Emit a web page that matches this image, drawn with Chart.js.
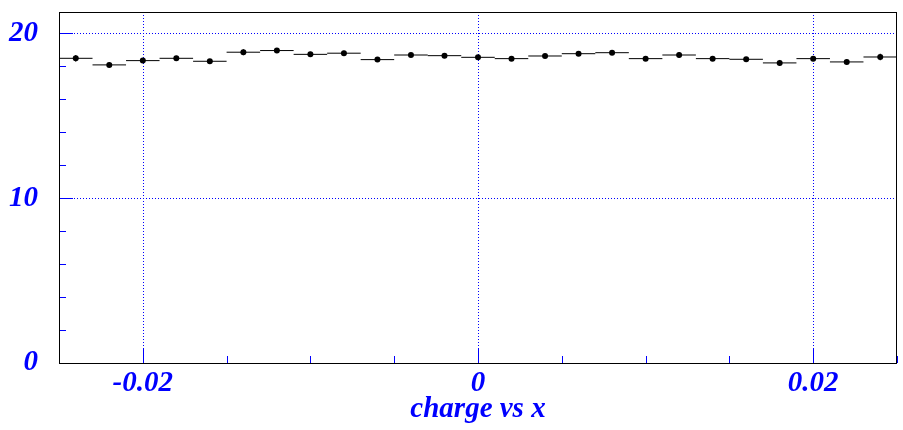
<!DOCTYPE html>
<html>
<head>
<meta charset="utf-8">
<script src="https://cdn.jsdelivr.net/npm/chart.js@4.4.1/dist/chart.umd.min.js"></script>
<style>
  body { margin: 0; background: #fff; }
  #wrap { width: 903px; height: 430px; }
</style>
</head>
<body>
<div id="wrap"><canvas id="profile" width="903" height="430"></canvas></div>
<script>
// profile: mean charge per x bin (25 bins of 0.002)
const binLow = -0.025;
const binWidth = 0.002;
const charge = [18.49, 18.09, 18.35, 18.49, 18.31, 18.86, 18.96, 18.73, 18.80, 18.41,
                18.69, 18.65, 18.55, 18.47, 18.63, 18.77, 18.83, 18.47, 18.69, 18.47,
                18.43, 18.21, 18.47, 18.27, 18.57];
const chargeErr = [0.20, 0.15, 0.12, 0.15, 0.12, 0.18, 0.15, 0.15, 0.15, 0.10,
                   0.12, 0.15, 0.10, 0.12, 0.10, 0.12, 0.12, 0.12, 0.18, 0.12,
                   0.10, 0.18, 0.12, 0.15, 0.20];
const xLabels = [-0.02, 0, 0.02];
const yLabels = [0, 10, 20];

const blue = '#0000ff';
const labelFont = { family: 'Liberation Serif', size: 29, weight: 'bold', style: 'italic' };

const stepPts = [];
const errPts = [];
const centerPts = [];
charge.forEach((v, i) => {
    const lo = binLow + i * binWidth;
    const c = lo + binWidth / 2;
    stepPts.push({ x: lo, y: v }, { x: lo + binWidth, y: v }, { x: lo + binWidth, y: null });
    errPts.push({ x: c, y: v - chargeErr[i] }, { x: c, y: v + chargeErr[i] }, { x: c, y: null });
    centerPts.push({ x: c, y: v });
});

function isLabel(v, list) {
    return list.some(l => Math.abs(v - l) < 1e-9);
}

// ROOT style frame, dotted grid and inward ticks
const frame = {
    id: 'frame',
    beforeDatasetsDraw(chart) {
        const { ctx, chartArea: a, scales: { x, y } } = chart;
        ctx.save();
        ctx.strokeStyle = blue;
        ctx.lineWidth = 1;
        ctx.setLineDash([1, 2]);
        xLabels.forEach(v => {
            const px = Math.round(x.getPixelForValue(v)) + 0.5;
            ctx.beginPath(); ctx.moveTo(px, a.top); ctx.lineTo(px, a.bottom); ctx.stroke();
        });
        yLabels.forEach(v => {
            if (v === 0) return;
            const py = Math.round(y.getPixelForValue(v)) + 0.5;
            ctx.beginPath(); ctx.moveTo(a.left, py); ctx.lineTo(a.right, py); ctx.stroke();
        });
        ctx.setLineDash([]);
        for (let v = -0.025; v <= 0.0251; v += 0.005) {
            const px = Math.round(x.getPixelForValue(v)) + 0.5;
            const len = isLabel(Math.round(v * 1000) / 1000, xLabels) ? 14 : 7;
            ctx.beginPath(); ctx.moveTo(px, a.bottom); ctx.lineTo(px, a.bottom - len); ctx.stroke();
        }
        for (let v = 2; v <= 20; v += 2) {
            const py = Math.round(y.getPixelForValue(v)) + 0.5;
            const len = isLabel(v, yLabels) ? 14 : 7;
            ctx.beginPath(); ctx.moveTo(a.left, py); ctx.lineTo(a.left + len, py); ctx.stroke();
        }
        ctx.strokeStyle = '#000';
        ctx.strokeRect(Math.round(a.left) + 0.5, Math.round(a.top) + 0.5,
                       Math.round(a.right - a.left) - 1, Math.round(a.bottom - a.top));
        ctx.restore();
    }
};

new Chart(document.getElementById('profile'), {
    type: 'scatter',
    data: {
        datasets: [
            { type: 'line', data: stepPts, borderColor: '#000', borderWidth: 1, pointRadius: 0, spanGaps: false },
            { type: 'line', data: errPts, borderColor: '#000', borderWidth: 1, pointRadius: 0, spanGaps: false },
            { data: centerPts, backgroundColor: '#000', borderColor: '#000', pointRadius: 3, borderWidth: 0 }
        ]
    },
    options: {
        responsive: false,
        animation: false,
        events: [],
        layout: { padding: { top: 12, right: 6, left: 0, bottom: 0 } },
        plugins: { legend: { display: false }, tooltip: { enabled: false } },
        scales: {
            x: {
                type: 'linear',
                min: -0.025,
                max: 0.025,
                afterFit: s => { s.height = 67; s.paddingLeft = 0; s.paddingRight = 0; },
                grid: { display: false, drawTicks: false },
                border: { display: false },
                ticks: {
                    stepSize: 0.005,
                    includeBounds: false,
                    maxRotation: 0,
                    autoSkip: false,
                    padding: 3,
                    color: blue,
                    font: labelFont,
                    callback: v => {
                        const r = Math.round(v * 1000) / 1000;
                        return isLabel(r, xLabels) ? String(r) : '';
                    }
                },
                title: {
                    display: true,
                    text: 'charge vs x',
                    color: blue,
                    font: labelFont,
                    padding: { top: 0, bottom: 3 }
                }
            },
            y: {
                min: 0,
                max: 21.3,
                afterFit: s => { s.width = 59; s.paddingTop = 0; s.paddingBottom = 0; },
                grid: { display: false, drawTicks: false },
                border: { display: false },
                ticks: {
                    stepSize: 2,
                    includeBounds: false,
                    autoSkip: false,
                    padding: 21,
                    color: blue,
                    font: labelFont,
                    callback: v => isLabel(v, yLabels) ? String(v) : ''
                }
            }
        }
    },
    plugins: [frame]
});
</script>
</body>
</html>
